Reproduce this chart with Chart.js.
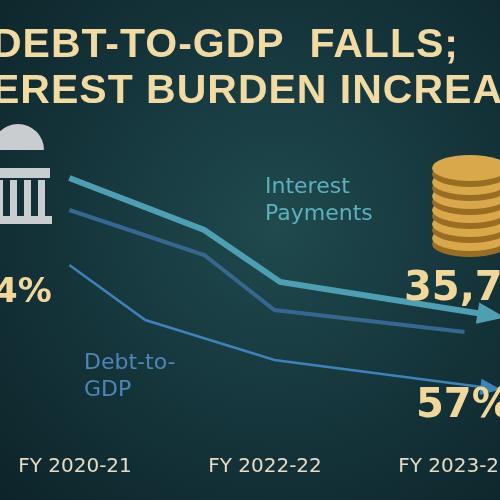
<!DOCTYPE html>
<html>
<head>
<meta charset="utf-8">
<script src="https://cdn.jsdelivr.net/npm/chart.js@4.4.1/dist/chart.umd.min.js"></script>
<style>
  html, body { margin: 0; padding: 0; }
  body { width: 500px; height: 500px; overflow: hidden; position: relative;
    background: radial-gradient(ellipse at 55% 45%, #1f4a4e 0%, #14343a 55%, #0d2429 100%); font-family: "DejaVu Sans", sans-serif; }
  #wrap { position: absolute; left: 0; top: 0; width: 500px; height: 500px; }
  .t { position: absolute; white-space: nowrap; }
  .title { color: #f1dba2; font-family: "Liberation Sans", sans-serif; font-weight: bold; font-size: 41px; letter-spacing: 1px; }
</style>
</head>
<body>
<div id="wrap"><canvas id="myChart" width="500" height="500"></canvas></div>
<div class="t title" style="left:-8px; top:20px;">DEBT-TO-GDP&nbsp; FALLS;</div>
<div class="t title" style="left:-8px; top:66px;">EREST BURDEN INCREASES</div>
<div class="t" style="left:265px; top:172px; color:#5fb0bd; font-size:22px; line-height:27px;">Interest<br>Payments</div>
<div class="t" style="left:84px; top:348px; color:#4f86b5; font-size:22px; line-height:27px;">Debt-to-<br>GDP</div>
<div class="t" style="left:404px; top:263px; color:#f1d79a; font-size:40px; font-weight:bold;">35,72</div>
<div class="t" style="left:416px; top:380px; color:#f1d79a; font-size:40px; font-weight:bold;">57%</div>
<div class="t" style="left:-6px; top:270px; color:#f1d79a; font-size:34px; font-weight:bold;">4%</div>
<script>
const xLabels = ['FY 2020-21', 'FY 2022-22', 'FY 2023-24']
const interestX = [-0.03, 0.68, 1.08, 2.18]
const interestY = [64.4, 54, 43.6, 37]
const debtUpperX = [-0.03, 0.68, 1.05, 2.05]
const debtUpperY = [58, 49, 38, 33.6]
const debtLowerX = [-0.03, 0.37, 1.05, 2.18]
const debtLowerY = [47, 36, 28, 22.4]

const toPoints = (xs, ys) => xs.map((x, i) => ({ x: x, y: ys[i] }))

const decor = {
    id: 'decor',
    beforeDatasetsDraw(chart) {
        const c = chart.ctx
        // bank
        c.save()
        c.fillStyle = '#c9cdd0'
        c.beginPath(); c.arc(18, 150, 26, Math.PI, 0); c.fill()
        c.fillRect(-10, 168, 60, 10)
        for (let i = 0; i < 4; i++) c.fillRect(-4 + i * 14, 180, 7, 36)
        c.fillRect(-10, 216, 62, 8)
        // coins
        for (let i = 0; i < 6; i++) {
            const y = 238 - i * 14
            c.fillStyle = '#9a6e22'
            c.beginPath(); c.ellipse(470, y + 6, 38, 13, 0, 0, Math.PI * 2); c.fill()
            c.fillStyle = '#d9a84a'
            c.beginPath(); c.ellipse(470, y, 38, 13, 0, 0, Math.PI * 2); c.fill()
        }
        c.restore()
    },
    afterDatasetsDraw(chart) {
        const c = chart.ctx
        const xs = chart.scales.x, ys = chart.scales.y
        chart.data.datasets.forEach((ds, i) => {
            if (!ds.arrow) return
            const p = ds.data[ds.data.length - 1], q = ds.data[ds.data.length - 2]
            const x1 = xs.getPixelForValue(p.x), y1 = ys.getPixelForValue(p.y)
            const x0 = xs.getPixelForValue(q.x), y0 = ys.getPixelForValue(q.y)
            const a = Math.atan2(y1 - y0, x1 - x0)
            const s = ds.arrow
            c.save()
            c.fillStyle = ds.borderColor
            c.beginPath()
            c.moveTo(x1 + Math.cos(a) * s, y1 + Math.sin(a) * s)
            c.lineTo(x1 + Math.cos(a + 2.4) * s, y1 + Math.sin(a + 2.4) * s)
            c.lineTo(x1 + Math.cos(a - 2.4) * s, y1 + Math.sin(a - 2.4) * s)
            c.fill()
            c.restore()
        })
        c.save()
        c.fillStyle = '#e6dcc4'
        c.font = '20px "DejaVu Sans", sans-serif'
        c.textAlign = 'center'
        xLabels.forEach((l, i) => c.fillText(l, xs.getPixelForValue(i), 472))
        c.restore()
    }
}

new Chart(document.getElementById('myChart'), {
    type: 'line',
    data: {
        datasets: [
            { data: toPoints(interestX, interestY), borderColor: '#4e9fb2', borderWidth: 6, arrow: 16 },
            { data: toPoints(debtUpperX, debtUpperY), borderColor: '#36688f', borderWidth: 4 },
            { data: toPoints(debtLowerX, debtLowerY), borderColor: '#3f82b8', borderWidth: 2.5, arrow: 12 }
        ]
    },
    options: {
        responsive: false,
        animation: false,
        layout: { padding: 0 },
        elements: { point: { radius: 0 }, line: { tension: 0 } },
        plugins: { legend: { display: false }, tooltip: { enabled: false } },
        scales: {
            x: { type: 'linear', display: false, min: -75 / 190, max: 425 / 190 },
            y: { display: false, min: 0, max: 100 }
        }
    },
    plugins: [decor]
})
</script>
</body>
</html>
